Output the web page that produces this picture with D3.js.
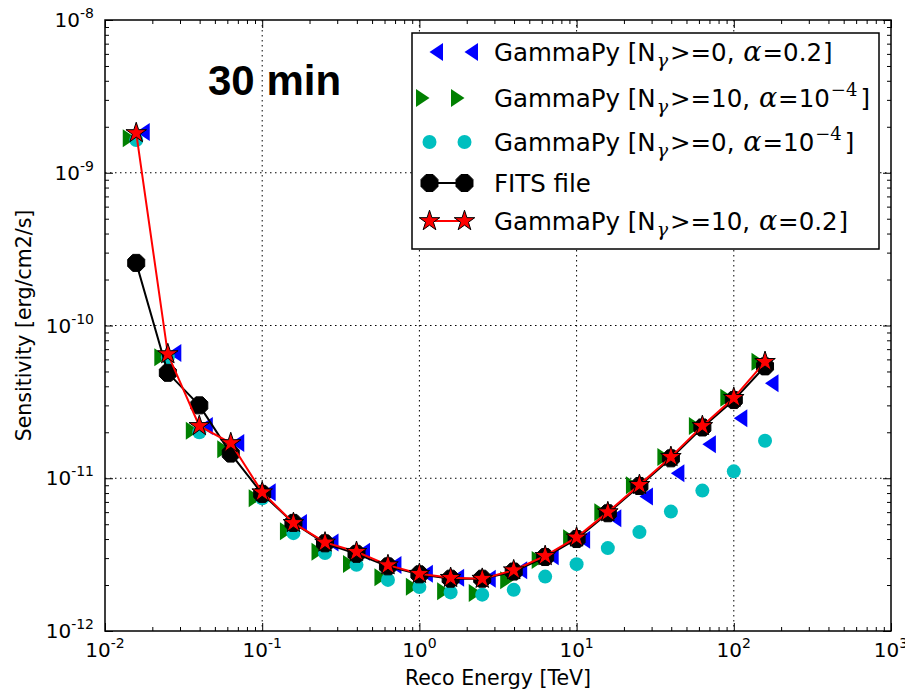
<!DOCTYPE html>
<html>
<head>
<meta charset="utf-8">
<script src="https://cdn.jsdelivr.net/npm/d3@7"></script>
<style>
  html, body { margin: 0; padding: 0; background: #fff; }
  svg { display: block; }
</style>
</head>
<body>
<svg id="chart" width="905" height="692"></svg>
<script>
// Reconstructed energy bins (TeV), five per decade
const energy = [0.0158, 0.0251, 0.0398, 0.0631, 0.1, 0.158, 0.251, 0.398, 0.631, 1.0,
                1.58, 2.51, 3.98, 6.31, 10, 15.8, 25.1, 39.8, 63.1, 100, 158];

// Sensitivity curves [erg/cm2/s]
const sensN0A02 = [1.85e-9, 6.6e-11, 2.2e-11, 1.7e-11, 8.1e-12, 5.1e-12, 3.8e-12, 3.3e-12, 2.7e-12, 2.37e-12,
                   2.23e-12, 2.2e-12, 2.5e-12, 3.08e-12, 3.95e-12, 5.48e-12, 7.6e-12, 1.08e-11, 1.67e-11, 2.47e-11, 4.19e-11];
const sensN10A1e4 = [1.68e-9, 6.2e-11, 2.05e-11, 1.55e-11, 7.4e-12, 4.5e-12, 3.3e-12, 2.75e-12, 2.25e-12, 1.95e-12,
                     1.82e-12, 1.77e-12, 2.15e-12, 2.92e-12, 4.05e-12, 6.0e-12, 9.0e-12, 1.38e-11, 2.2e-11, 3.36e-11, 5.78e-11];
const sensN0A1e4 = [1.64e-9, 6.2e-11, 2.0e-11, 1.5e-11, 7.4e-12, 4.37e-12, 3.24e-12, 2.71e-12, 2.16e-12, 1.94e-12,
                    1.79e-12, 1.73e-12, 1.86e-12, 2.27e-12, 2.74e-12, 3.49e-12, 4.44e-12, 6.05e-12, 8.3e-12, 1.11e-11, 1.76e-11];
const sensFits = [2.57e-10, 4.9e-11, 3.0e-11, 1.45e-11, 7.9e-12, 5.1e-12, 3.75e-12, 3.2e-12, 2.65e-12, 2.35e-12,
                  2.2e-12, 2.2e-12, 2.45e-12, 3.05e-12, 4.0e-12, 5.9e-12, 8.9e-12, 1.35e-11, 2.15e-11, 3.25e-11, 5.4e-11];
const sensN10A02 = [1.82e-9, 6.5e-11, 2.2e-11, 1.7e-11, 8.1e-12, 5.1e-12, 3.8e-12, 3.3e-12, 2.7e-12, 2.37e-12,
                    2.23e-12, 2.2e-12, 2.5e-12, 3.1e-12, 4.1e-12, 6.0e-12, 9.05e-12, 1.38e-11, 2.2e-11, 3.36e-11, 5.78e-11];

// Axis ticks
const xMajorTicks = [1e-2, 1e-1, 1e0, 1e1, 1e2, 1e3];
const yMajorTicks = [1e-12, 1e-11, 1e-10, 1e-9, 1e-8];
const xGridTicks = [1e-1, 1e0, 1e1, 1e2];
const yGridTicks = [1e-11, 1e-10, 1e-9];

const title = "30 min";
const xLabel = "Reco Energy [TeV]";
const yLabel = "Sensitivity [erg/cm2/s]";

const svg = d3.select("#chart");
const L = 105, R = 891, T = 20, B = 631;

const x = d3.scaleLog().domain([1e-2, 1e3]).range([L, R]);
const y = d3.scaleLog().domain([1e-12, 1e-8]).range([B, T]);

const minorsOf = (lo, hi) => {
  const out = [];
  for (let e = lo; e < hi; e++) for (let m = 2; m <= 9; m++) out.push(m * Math.pow(10, e));
  return out;
};
const xMinor = minorsOf(-2, 3);
const yMinor = minorsOf(-12, -8);

const sansFont = "'DejaVu Sans', sans-serif";
const mathFont = "'DejaVu Serif', 'Liberation Serif', serif";

// grid
const grid = svg.append("g").attr("stroke", "#000").attr("stroke-width", 1)
  .attr("stroke-dasharray", "1.5,3.5");
grid.selectAll("line.gx").data(xGridTicks).join("line").attr("class", "gx")
  .attr("x1", d => x(d)).attr("x2", d => x(d)).attr("y1", T).attr("y2", B);
grid.selectAll("line.gy").data(yGridTicks).join("line").attr("class", "gy")
  .attr("y1", d => y(d)).attr("y2", d => y(d)).attr("x1", L).attr("x2", R);

// ticks on all four sides (inward)
function tickAxis(axisFn, scale, values, size, transform) {
  const g = svg.append("g").attr("transform", transform)
    .call(axisFn(scale).tickValues(values).tickSize(-size).tickFormat(""));
  g.select(".domain").remove();
  g.selectAll(".tick line").attr("stroke", "#000").attr("stroke-width", 1);
  return g;
}
tickAxis(d3.axisBottom, x, xMajorTicks, 8, `translate(0,${B})`);
tickAxis(d3.axisBottom, x, xMinor, 4, `translate(0,${B})`);
tickAxis(d3.axisTop, x, xMajorTicks, 8, `translate(0,${T})`);
tickAxis(d3.axisTop, x, xMinor, 4, `translate(0,${T})`);
tickAxis(d3.axisLeft, y, yMajorTicks, 8, `translate(${L},0)`);
tickAxis(d3.axisLeft, y, yMinor, 4, `translate(${L},0)`);
tickAxis(d3.axisRight, y, yMajorTicks, 8, `translate(${R},0)`);
tickAxis(d3.axisRight, y, yMinor, 4, `translate(${R},0)`);

// tick labels with exponents
function powerLabel(sel, v) {
  const e = Math.round(Math.log10(v));
  sel.append("tspan").text("10");
  sel.append("tspan").attr("dy", -9).attr("font-size", 14).text(String(e).replace("\u2212", "-"));
}
svg.append("g").selectAll("text").data(xMajorTicks).join("text")
  .attr("x", d => x(d)).attr("y", B + 26).attr("text-anchor", "middle")
  .attr("font-family", sansFont).attr("font-size", 20).attr("fill", "#000")
  .each(function(d) { powerLabel(d3.select(this), d); });
svg.append("g").selectAll("text").data(yMajorTicks).join("text")
  .attr("x", 94).attr("y", d => y(d) + 7).attr("text-anchor", "end")
  .attr("font-family", sansFont).attr("font-size", 20).attr("fill", "#000")
  .each(function(d) { powerLabel(d3.select(this), d); });

// axis labels
svg.append("text").attr("x", (L + R) / 2).attr("y", 685).attr("text-anchor", "middle")
  .attr("font-family", sansFont).attr("font-size", 20.5).text(xLabel);
svg.append("text").attr("transform", `translate(31,${(T + B) / 2}) rotate(-90)`)
  .attr("text-anchor", "middle").attr("font-family", sansFont).attr("font-size", 20.5).text(yLabel);

// marker shapes
const starPath = (r) => {
  const pts = [];
  for (let i = 0; i < 10; i++) {
    const a = -Math.PI / 2 + i * Math.PI / 5;
    const rr = i % 2 ? r * 0.381966 : r;
    pts.push([rr * Math.cos(a), rr * Math.sin(a)]);
  }
  return "M" + pts.map(p => p.join(",")).join("L") + "Z";
};
const octPath = (r) => {
  const pts = [];
  for (let i = 0; i < 8; i++) {
    const a = Math.PI / 8 + i * Math.PI / 4;
    pts.push([r * Math.cos(a), r * Math.sin(a)]);
  }
  return "M" + pts.map(p => p.join(",")).join("L") + "Z";
};
const caretLeft = (s) => `M0,0L${1.5 * s},${-s}L${1.5 * s},${s}Z`;
const caretRight = (s) => `M0,0L${-1.5 * s},${-s}L${-1.5 * s},${s}Z`;

const series = [
  { name: "n0a02", values: sensN0A02, shape: caretLeft(9), fill: "#0000ff", stroke: "none", line: null },
  { name: "n10a1e4", values: sensN10A1e4, shape: caretRight(9), fill: "#008000", stroke: "none", line: null },
  { name: "n0a1e4", values: sensN0A1e4, shape: "circle", fill: "#00bfbf", stroke: "none", line: null },
  { name: "fits", values: sensFits, shape: octPath(9.2), fill: "#000", stroke: "#000", line: "#000" },
  { name: "n10a02", values: sensN10A02, shape: starPath(10.8), fill: "#ff0000", stroke: "#000", line: "#ff0000" }
];

const plot = svg.append("g");
const lineGen = d3.line().x(d => x(d[0])).y(d => y(d[1]));

function drawMarker(g, s, px, py) {
  if (s.shape === "circle") {
    g.append("circle").attr("cx", px).attr("cy", py).attr("r", 7).attr("fill", s.fill);
  } else {
    g.append("path").attr("d", s.shape).attr("transform", `translate(${px},${py})`)
      .attr("fill", s.fill).attr("stroke", s.stroke).attr("stroke-width", s.stroke === "none" ? 0 : 1)
      .attr("stroke-linejoin", "miter");
  }
}

series.forEach(s => {
  const g = plot.append("g").attr("class", s.name);
  const pts = energy.map((e, i) => [e, s.values[i]]);
  if (s.line) {
    g.append("path").attr("d", lineGen(pts)).attr("fill", "none")
      .attr("stroke", s.line).attr("stroke-width", 2);
  }
  pts.forEach(p => drawMarker(g, s, x(p[0]), y(p[1])));
});

// frame
svg.append("rect").attr("x", L).attr("y", T).attr("width", R - L).attr("height", B - T)
  .attr("fill", "none").attr("stroke", "#000").attr("stroke-width", 1.5);

// title
svg.append("text").attr("x", 208).attr("y", 95)
  .attr("font-family", "'Liberation Sans', Arial, sans-serif").attr("font-weight", "bold")
  .attr("font-size", 42).text(title);

// legend
const legend = svg.append("g");
legend.append("rect").attr("x", 412).attr("y", 33).attr("width", 467).attr("height", 216)
  .attr("fill", "#fff").attr("stroke", "#000").attr("stroke-width", 1.5);

const legendRows = [
  { s: series[0], y: 52, n: "0", a: ["0.2"] },
  { s: series[1], y: 98, n: "10", a: ["10", "\u22124"] },
  { s: series[2], y: 142, n: "0", a: ["10", "\u22124"] },
  { s: series[3], y: 183, label: "FITS file" },
  { s: series[4], y: 221, n: "10", a: ["0.2"] }
];
const lx1 = 429.5, lx2 = 464.5, tx = 494;

legendRows.forEach(row => {
  const g = legend.append("g");
  if (row.s.line) {
    g.append("line").attr("x1", lx1).attr("x2", lx2).attr("y1", row.y).attr("y2", row.y)
      .attr("stroke", row.s.line).attr("stroke-width", 2);
  }
  drawMarker(g, row.s, lx1, row.y);
  drawMarker(g, row.s, lx2, row.y);

  const t = g.append("text").attr("x", tx).attr("y", row.y + 8.5)
    .attr("font-family", sansFont).attr("font-size", 24.5).attr("fill", "#000");
  if (row.label) { t.text(row.label); return; }
  t.append("tspan").text("GammaPy [N");
  t.append("tspan").attr("dy", 6).attr("dx", 1).attr("font-family", mathFont).attr("font-style", "italic")
    .attr("font-size", 19).text("\u03b3");
  t.append("tspan").attr("dy", -6).attr("dx", 2).text(">=" + row.n + ", ");
  t.append("tspan").attr("dx", 1).attr("font-family", mathFont).attr("font-style", "italic")
    .attr("font-size", 27).text("\u03b1");
  t.append("tspan").attr("dx", 1).text("=" + row.a[0]);
  if (row.a.length > 1) {
    t.append("tspan").attr("dy", -11).attr("dx", 1).attr("font-family", mathFont).attr("font-size", 18).text(row.a[1]);
    t.append("tspan").attr("dy", 11).attr("dx", 3).text("]");
  } else {
    t.append("tspan").attr("dx", 1).text("]");
  }
});
</script>
</body>
</html>
